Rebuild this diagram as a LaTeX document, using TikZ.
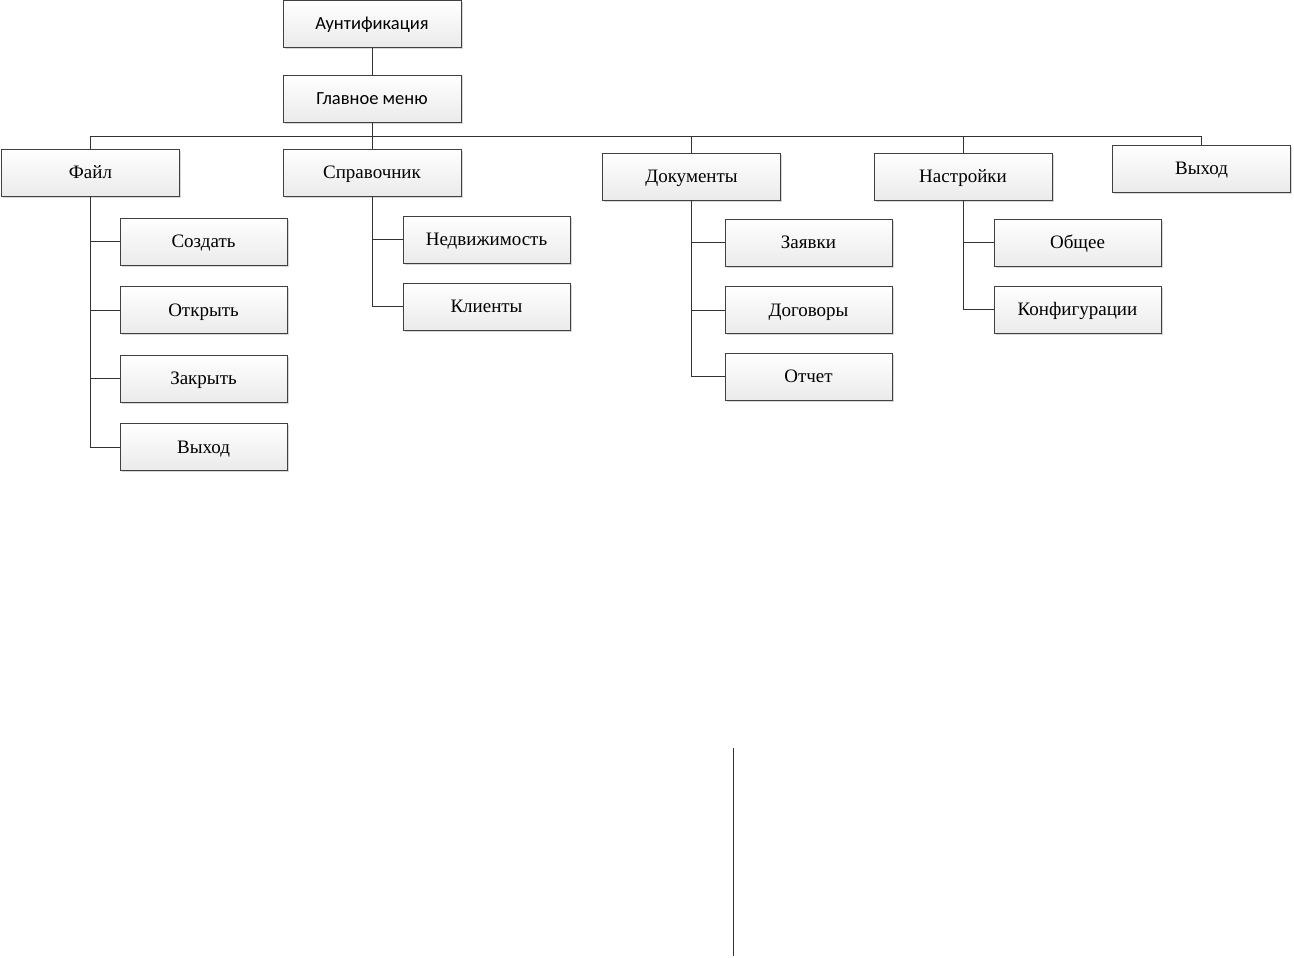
\documentclass[tikz,border=0pt]{standalone}
\usepackage{fontspec}
\setmainfont{Liberation Serif}
\newfontfamily\calfont{Carlito}
\usetikzlibrary{shadows}
\begin{document}
\begin{tikzpicture}[x=1pt,y=-1pt,
  box/.style={draw=black!75, line width=0.8pt, top color=white, bottom color=black!8,
    minimum width=178pt, minimum height=47pt, inner sep=0pt, font=\fontsize{19}{21}\selectfont,
    text height=14pt, text depth=2pt,
    drop shadow={shadow xshift=1.5pt, shadow yshift=-1.5pt, fill=black!30, opacity=0.5}},
  sbox/.style={box, minimum width=167pt},
  topbox/.style={box, font=\calfont\fontsize{18.5}{21}\selectfont},
  conn/.style={draw=black!80, line width=0.8pt}]
\useasboundingbox (0,0) rectangle (1294,958);
% top
\node[topbox] (auth) at (372,24) {Аунтификация};
\node[topbox] (menu) at (372,98.5) {Главное меню};
% level 1
\node[box] (file) at (90.5,172.5) {Файл};
\node[box] (sprav) at (372,172.5) {Справочник};
\node[box] (docs) at (691.5,176.5) {Документы};
\node[box] (sett) at (963,176.5) {Настройки};
\node[box] (exit) at (1201.5,168.5) {Выход};
% file children
\node[sbox] (create) at (203.5,241.5) {Создать};
\node[sbox] (open) at (203.5,310) {Открыть};
\node[sbox] (close) at (203.5,378.5) {Закрыть};
\node[sbox] (fexit) at (203.5,447) {Выход};
% sprav children
\node[sbox] (estate) at (486.5,239.5) {Недвижимость};
\node[sbox] (clients) at (486.5,306.5) {Клиенты};
% docs children
\node[sbox] (req) at (808.5,242.5) {Заявки};
\node[sbox] (contr) at (808.5,310) {Договоры};
\node[sbox] (report) at (808.5,376.5) {Отчет};
% settings children
\node[sbox] (gen) at (1077.5,242.5) {Общее};
\node[sbox] (conf) at (1077.5,309.5) {Конфигурации};
% connectors
\coordinate (bus) at (372,136);
\draw[conn] (auth) -- (menu);
\draw[conn] (menu) -- (bus);
\draw[conn] (file.north) -- (file.north |- bus) -- (exit.north |- bus) -- (exit.north);
\draw[conn] (sprav.north) -- (sprav.north |- bus);
\draw[conn] (docs.north) -- (docs.north |- bus);
\draw[conn] (sett.north) -- (sett.north |- bus);
\foreach \c in {create,open,close,fexit} \draw[conn] (file.south) |- (\c.west);
\foreach \c in {estate,clients} \draw[conn] (sprav.south) |- (\c.west);
\foreach \c in {req,contr,report} \draw[conn] (docs.south) |- (\c.west);
\foreach \c in {gen,conf} \draw[conn] (sett.south) |- (\c.west);
% stray line
\coordinate (la) at (733,748);
\coordinate (lb) at (733,956);
\draw[conn] (la) -- (lb);
\end{tikzpicture}
\end{document}
